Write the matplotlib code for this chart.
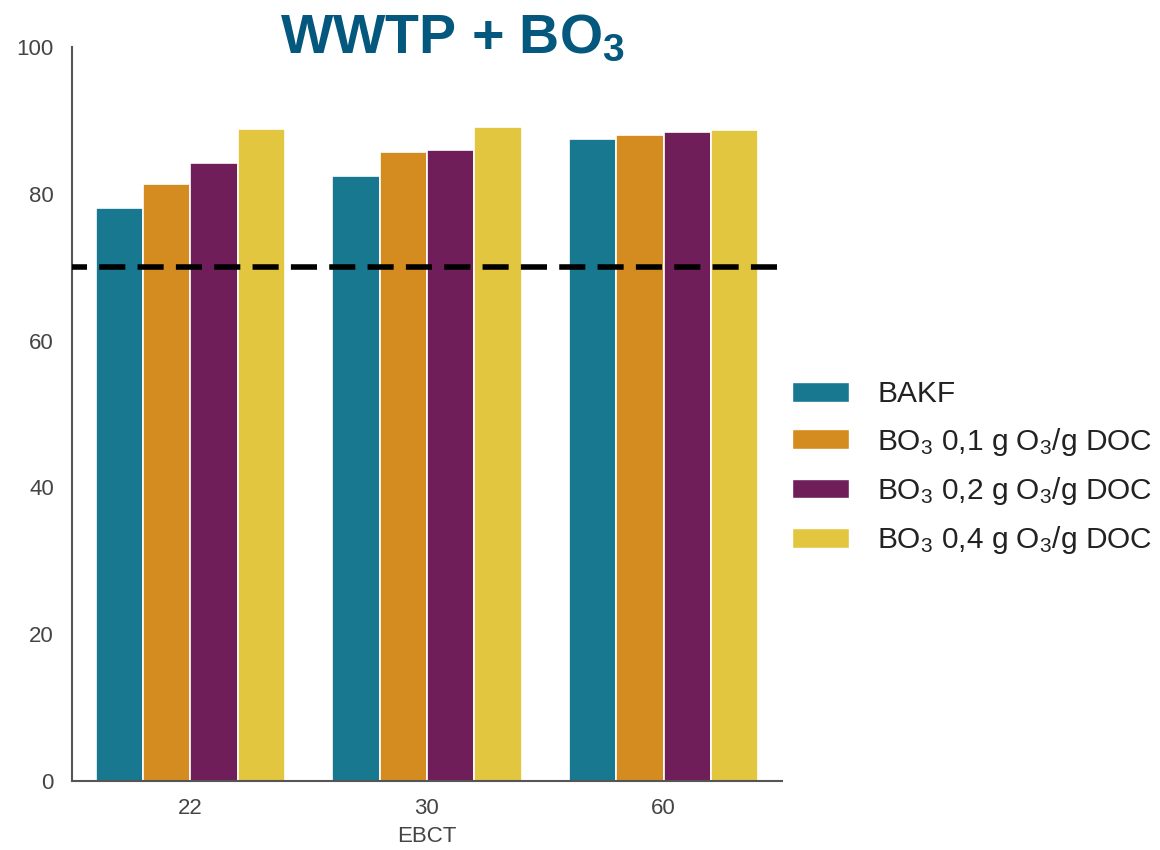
import matplotlib
matplotlib.use("Agg")
import matplotlib.pyplot as plt
import numpy as np
from matplotlib.patches import Patch

plt.rcParams['font.family'] = ['Liberation Sans', 'DejaVu Sans']
plt.rcParams['mathtext.fontset'] = 'custom'
plt.rcParams['mathtext.rm'] = 'Liberation Sans'
plt.rcParams['mathtext.it'] = 'Liberation Sans'
plt.rcParams['mathtext.bf'] = 'Liberation Sans:bold'

categories = ["22", "30", "60"]
series_names = ["BAKF",
                "BO$_3$ 0,1 g O$_3$/g DOC",
                "BO$_3$ 0,2 g O$_3$/g DOC",
                "BO$_3$ 0,4 g O$_3$/g DOC"]
bakf = [78.0, 82.4, 87.5]
bo3_01 = [81.3, 85.7, 88.0]
bo3_02 = [84.2, 85.9, 88.4]
bo3_04 = [88.8, 89.1, 88.6]
threshold = 70
y_ticks = [0, 20, 40, 60, 80, 100]

colors = ["#17788F", "#D48C20", "#701E5A", "#E2C640"]

fig = plt.figure(figsize=(11.6, 8.5), dpi=100)
ax = fig.add_axes([0.062, 0.081, 0.612, 0.864])

x = np.arange(len(categories))
width = 0.2
all_series = [bakf, bo3_01, bo3_02, bo3_04]
for i, (vals, c) in enumerate(zip(all_series, colors)):
    ax.bar(x + (i - 1.5) * width, vals, width, color=c, edgecolor='white', linewidth=1.2)

ax.axhline(threshold, color='black', linestyle=(2.0, (4.7, 2.2)), linewidth=4, zorder=5)

ax.set_xlim(-0.5, 2.5)
ax.set_ylim(0, 100)
ax.set_yticks(y_ticks)
ax.set_xticks(x)
ax.set_xticklabels(categories)
ax.tick_params(axis='both', length=0, labelsize=16, labelcolor='#444444')
ax.tick_params(axis='y', pad=13)
ax.tick_params(axis='x', pad=12)
ax.set_xlabel("EBCT", fontsize=16, color='#444444', labelpad=5)
for s in ['top', 'right']:
    ax.spines[s].set_visible(False)
for s in ['left', 'bottom']:
    ax.spines[s].set_color('#555555')
    ax.spines[s].set_linewidth(1.5)

fig.text(0.39, 0.937, r"WWTP + BO$_\mathbf{3}$", fontsize=40, fontweight='bold',
         color='#04587E', ha='center', va='baseline')

handles = [Patch(facecolor=c, edgecolor='white') for c in colors]
fig.legend(handles, series_names, loc='center left', bbox_to_anchor=(0.683, 0.449),
           frameon=False, fontsize=21.5, handlelength=1.9, handleheight=0.64,
           handletextpad=0.94, labelspacing=0.58, labelcolor='#222222',
           borderpad=0, borderaxespad=0)

fig.savefig("out.png", dpi=100)
